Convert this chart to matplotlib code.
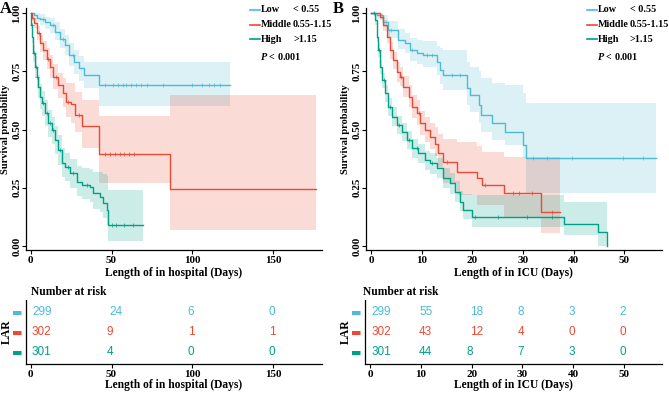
import matplotlib
matplotlib.use("Agg")
import matplotlib.pyplot as plt
from matplotlib.lines import Line2D
import numpy as np

# --- colours (npg palette) ---
colors = {"Low": "#4DBBD5", "Middle": "#E64B35", "High": "#00A087"}
groups = ["Low", "Middle", "High"]
legend_ranges = ["< 0.55", "0.55-1.15", ">1.15"]

# --- Panel A: length of stay in hospital ---
lowA_t = [0, 2, 4, 6, 9, 12, 15, 18, 21, 24, 27, 30, 33, 42, 123]
lowA_s = [1.0, 0.99, 0.98, 0.975, 0.96, 0.948, 0.92, 0.89, 0.863, 0.82, 0.79, 0.763, 0.734, 0.69, 0.69]
lowA_lo = [1.0, 0.975, 0.96, 0.95, 0.93, 0.915, 0.885, 0.85, 0.82, 0.775, 0.74, 0.71, 0.68, 0.60, 0.60]
lowA_hi = [1.0, 1.0, 1.0, 0.995, 0.985, 0.98, 0.96, 0.93, 0.905, 0.87, 0.84, 0.815, 0.79, 0.79, 0.79]
lowA_cens = [8, 14, 20, 26, 46, 51, 54, 57, 59, 62, 65, 68, 72, 82, 100, 106, 110, 113, 117]

midA_t = [0, 1, 2, 4, 6, 8, 10, 12, 14, 17, 20, 22, 25, 27.5, 32, 42.5, 86, 176]
midA_s = [1.0, 0.98, 0.956, 0.913, 0.87, 0.84, 0.805, 0.77, 0.727, 0.69, 0.655, 0.62, 0.61, 0.562, 0.515, 0.394, 0.243, 0.243]
midA_lo = [1.0, 0.965, 0.935, 0.885, 0.835, 0.80, 0.76, 0.72, 0.675, 0.635, 0.595, 0.555, 0.53, 0.49, 0.42, 0.27, 0.07, 0.07]
midA_hi = [1.0, 0.995, 0.98, 0.945, 0.905, 0.88, 0.85, 0.82, 0.78, 0.745, 0.72, 0.70, 0.70, 0.66, 0.627, 0.56, 0.65, 0.65]
midA_cens = [5, 11, 16, 23, 30, 46, 49, 52, 55, 58, 61, 64]

highA_t = [0, 0.5, 1.1, 1.7, 2.8, 3.8, 4.8, 5.9, 6.9, 9, 11, 13, 15, 17, 19.3, 21.3, 24.4,
           28.5, 31.6, 36.7, 38.8, 42.9, 44.9, 47, 48.1, 69.6]
highA_s = [1.0, 0.95, 0.898, 0.827, 0.77, 0.727, 0.684, 0.641, 0.612, 0.57, 0.527, 0.498, 0.455,
           0.412, 0.355, 0.34, 0.312, 0.276, 0.262, 0.255, 0.226, 0.212, 0.183, 0.155, 0.09, 0.09]
highA_lo = [1.0, 0.93, 0.87, 0.79, 0.725, 0.68, 0.635, 0.59, 0.56, 0.515, 0.47, 0.44, 0.395,
            0.35, 0.295, 0.28, 0.25, 0.215, 0.20, 0.19, 0.16, 0.145, 0.12, 0.09, 0.02, 0.02]
highA_hi = [1.0, 0.975, 0.93, 0.865, 0.815, 0.775, 0.735, 0.695, 0.665, 0.625, 0.585, 0.555, 0.515,
            0.475, 0.42, 0.40, 0.375, 0.345, 0.335, 0.33, 0.32, 0.32, 0.31, 0.30, 0.24, 0.24]
highA_cens = [1, 2, 3.3, 4.3, 7.5, 10, 12, 14, 18, 23, 26, 35, 50, 53, 58, 63]

# --- Panel B: length of stay in ICU ---
lowB_t = [0, 1.1, 2.4, 3.4, 5.4, 6.7, 7.7, 9, 10.3, 13, 13.6, 14.3, 18.9, 19.5, 21.3, 21.7,
          23.9, 26.4, 30.1, 30.6, 56.3]
lowB_s = [1.0, 0.991, 0.963, 0.927, 0.884, 0.87, 0.841, 0.827, 0.82, 0.791, 0.755, 0.734, 0.677,
          0.648, 0.605, 0.562, 0.527, 0.49, 0.433, 0.376, 0.376]
lowB_lo = [1.0, 0.975, 0.94, 0.895, 0.845, 0.83, 0.795, 0.78, 0.77, 0.735, 0.695, 0.67, 0.605,
           0.575, 0.53, 0.49, 0.455, 0.433, 0.376, 0.229, 0.229]
lowB_hi = [1.0, 1.0, 0.99, 0.965, 0.93, 0.915, 0.895, 0.885, 0.88, 0.86, 0.85, 0.84, 0.79,
           0.77, 0.75, 0.72, 0.70, 0.69, 0.655, 0.612, 0.612]
lowB_cens = [4, 8, 11, 12, 16, 17.5, 32, 34.7, 39.6, 49.7, 53.7]

midB_t = [0, 1.8, 2.4, 3.1, 3.75, 4.4, 5.1, 5.7, 6.4, 7.4, 8.0, 9.0, 9.7, 10.7, 11.6, 12.6,
          13.3, 14.3, 17.0, 20.9, 21.9, 26.3, 33.5, 37.3]
midB_s = [1.0, 0.984, 0.948, 0.898, 0.841, 0.798, 0.748, 0.727, 0.684, 0.641, 0.598, 0.57, 0.527,
          0.498, 0.469, 0.44, 0.398, 0.362, 0.319, 0.29, 0.262, 0.226, 0.147, 0.147]
midB_lo = [1.0, 0.97, 0.925, 0.87, 0.805, 0.76, 0.705, 0.685, 0.64, 0.595, 0.55, 0.52, 0.475,
           0.445, 0.415, 0.385, 0.34, 0.27, 0.219, 0.176, 0.176, 0.119, 0.054, 0.054]
midB_hi = [1.0, 0.995, 0.97, 0.93, 0.875, 0.835, 0.79, 0.77, 0.73, 0.69, 0.65, 0.625, 0.58,
           0.555, 0.53, 0.51, 0.48, 0.46, 0.448, 0.43, 0.405, 0.383, 0.383, 0.383]
midB_cens = [6, 9.5, 15, 22.5, 28, 29.2, 31.7, 35.7]

highB_t = [0, 0.8, 1.1, 1.4, 1.8, 2.1, 2.8, 3.4, 4.1, 5.1, 6.1, 7.0, 8.0, 9.3, 10.7, 11.6, 13,
           14.3, 15.6, 16.6, 17.6, 18.2, 19.9, 38.1, 44.9, 46.5]
highB_s = [1.0, 0.97, 0.898, 0.841, 0.77, 0.712, 0.655, 0.598, 0.555, 0.519, 0.49, 0.455, 0.419,
           0.398, 0.369, 0.355, 0.333, 0.291, 0.269, 0.233, 0.19, 0.155, 0.126, 0.093, 0.061, 0.0]
highB_lo = [1.0, 0.95, 0.875, 0.81, 0.74, 0.68, 0.62, 0.56, 0.515, 0.48, 0.45, 0.415, 0.38,
            0.355, 0.325, 0.31, 0.29, 0.25, 0.225, 0.19, 0.15, 0.115, 0.083, 0.047, 0.0, 0.0]
highB_hi = [1.0, 0.99, 0.925, 0.87, 0.80, 0.745, 0.69, 0.635, 0.595, 0.56, 0.53, 0.495, 0.46,
            0.44, 0.41, 0.40, 0.38, 0.335, 0.315, 0.28, 0.235, 0.225, 0.22, 0.19, 0.19, 0.0]
highB_cens = [0.5, 1.6, 2.5, 3.8, 5.5, 7.5, 9, 12, 20.5, 25, 30.7, 35.7]

# --- numbers at risk ---
riskA_times = [0, 50, 100, 150]
riskA = {"Low": [299, 24, 6, 0], "Middle": [302, 9, 1, 1], "High": [301, 4, 0, 0]}
riskB_times = [0, 10, 20, 30, 40, 50]
riskB = {"Low": [299, 55, 18, 8, 3, 2], "Middle": [302, 43, 12, 4, 0, 0], "High": [301, 44, 8, 7, 3, 0]}

curvesA = {
    "Low": (lowA_t, lowA_s, lowA_lo, lowA_hi, lowA_cens),
    "Middle": (midA_t, midA_s, midA_lo, midA_hi, midA_cens),
    "High": (highA_t, highA_s, highA_lo, highA_hi, highA_cens),
}
curvesB = {
    "Low": (lowB_t, lowB_s, lowB_lo, lowB_hi, lowB_cens),
    "Middle": (midB_t, midB_s, midB_lo, midB_hi, midB_cens),
    "High": (highB_t, highB_s, highB_lo, highB_hi, highB_cens),
}

SERIF = "Liberation Serif"
SANS = "Liberation Sans"
W, H = 669, 394


def rect(l, r, t, b):
    return [l / W, 1 - b / H, (r - l) / W, (b - t) / H]


def style_axes(ax):
    for side in ["top", "right"]:
        ax.spines[side].set_visible(False)
    for side in ["left", "bottom"]:
        ax.spines[side].set_linewidth(0.9)
    ax.tick_params(length=3, width=0.8, pad=1.5)
    ax.tick_params(axis="y", pad=0.3)
    for lab in ax.get_xticklabels() + ax.get_yticklabels():
        lab.set_fontfamily(SERIF)
        lab.set_fontweight("bold")
        lab.set_fontsize(8)


def km_panel(ax, curves, xlim, xticks, xlabel):
    for g in groups:
        t, s, lo, hi, cens = curves[g]
        c = colors[g]
        ax.fill_between(t, lo, hi, step="post", color=c, alpha=0.2, lw=0)
        ax.step(t, s, where="post", color=c, lw=1.0)
        idx = np.searchsorted(t, cens, side="right") - 1
        ax.plot(cens, np.array(s)[idx], ls="none", marker="+", ms=3, mew=0.5, color=c)
    ax.set_xlim(*xlim)
    ax.set_ylim(-0.017, 1.022)
    ax.set_xticks(xticks)
    ax.set_yticks([0, 0.25, 0.5, 0.75, 1.0])
    ax.set_yticklabels(["0.00", "0.25", "0.50", "0.75", "1.00"], rotation=90, va="center")
    ax.set_xlabel(xlabel, fontfamily=SERIF, fontweight="bold", fontsize=8.3, labelpad=1)
    ax.set_ylabel("Survival probability", fontfamily=SERIF, fontweight="bold", fontsize=7.5, labelpad=2)
    style_axes(ax)


def risk_table(ax, times, risk, xlim, xlabel, lar_x):
    ax.set_xlim(*xlim)
    ax.set_ylim(0.4, 3.6)
    ax.set_xticks(times)
    ax.set_yticks([3, 2, 1])
    ax.set_yticklabels(["\u25ac"] * 3)
    for row, g in zip([3, 2, 1], groups):
        for t, n in zip(times, risk[g]):
            s = str(n)
            off = -1.1 + 4.6 * (len(s) - 1)
            ax.annotate(s, (t, row), xytext=(off, 0), textcoords="offset points",
                        ha="center", va="center", fontsize=8.5, fontfamily=SANS, color=colors[g])
    ax.set_xlabel(xlabel, fontfamily=SERIF, fontweight="bold", fontsize=8.3, labelpad=0)
    style_axes(ax)
    ax.tick_params(axis="y", length=0, pad=2.5)
    for lab, g in zip(ax.get_yticklabels(), groups):
        lab.set_fontfamily("DejaVu Sans")
        lab.set_fontsize(8)
        lab.set_color(colors[g])
    fig.text(lar_x / W, 1 - 332 / H, "LAR", rotation=90, ha="center", va="center",
             fontfamily=SERIF, fontweight="bold", fontsize=8.5)


def legend(fig, x0, xv):
    for i, (g, r) in enumerate(zip(groups, legend_ranges)):
        y = 1 - (10 + 14.7 * i) / H
        fig.add_artist(Line2D([(x0 - 11) / W, (x0 - 1) / W], [y, y], color=colors[g], lw=1.2))
        fig.text(x0 / W, y, g, fontfamily=SERIF, fontweight="bold", fontsize=7.3, va="center")
        fig.text(xv / W, y, r, fontfamily=SERIF, fontweight="bold", fontsize=7.3, va="center")
    fig.text((x0 - 1) / W, 1 - 57 / H, "$\\bf{\\it{P}}$ < 0.001", fontfamily=SERIF, fontweight="bold",
             fontsize=7.3, va="center")


plt.rcParams["mathtext.fontset"] = "custom"
plt.rcParams["mathtext.it"] = "Liberation Serif:italic:bold"
plt.rcParams["mathtext.bf"] = "Liberation Serif:italic:bold"

fig = plt.figure(figsize=(6.69, 3.94), dpi=100)

axA = fig.add_axes(rect(26, 321.7, 8, 250))
axB = fig.add_axes(rect(366, 661.7, 8, 250))
tabA = fig.add_axes(rect(26, 321.7, 300, 364))
tabB = fig.add_axes(rect(365, 661.7, 300, 364))

xlimA = (-2.8, 179.8)
xlimB = (-1.0, 57.4)
km_panel(axA, curvesA, xlimA, [0, 50, 100, 150], "Length of in hospital (Days)")
km_panel(axB, curvesB, xlimB, [0, 10, 20, 30, 40, 50], "Length of in ICU (Days)")
risk_table(tabA, riskA_times, riskA, xlimA, "Length of in hospital (Days)", 7)
risk_table(tabB, riskB_times, riskB, xlimB, "Length of in ICU (Days)", 346)

fig.text(31.5 / W, 1 - 292 / H, "Number at risk", fontfamily=SERIF, fontweight="bold", fontsize=8.3, va="center")
fig.text(363 / W, 1 - 292 / H, "Number at risk", fontfamily=SERIF, fontweight="bold", fontsize=8.3, va="center")

legend(fig, 261, 293)
legend(fig, 598, 630)

fig.text(0 / W, 1 - 9 / H, "A", fontfamily=SERIF, fontweight="bold", fontsize=12, va="center")
fig.text(333 / W, 1 - 9 / H, "B", fontfamily=SERIF, fontweight="bold", fontsize=12, va="center")

fig.savefig("out.png", dpi=100)
